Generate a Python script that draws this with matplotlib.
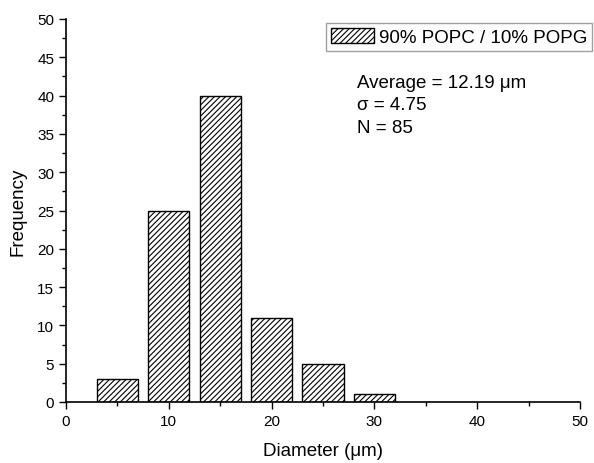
import matplotlib
matplotlib.use("Agg")
import matplotlib.pyplot as plt
from matplotlib.ticker import MultipleLocator

plt.rcParams['font.family'] = ['Liberation Sans', 'DejaVu Sans']
plt.rcParams['hatch.linewidth'] = 0.8

centers = [5, 10, 15, 20, 25, 30]
counts = [3, 25, 40, 11, 5, 1]
label = "90% POPC / 10% POPG"
stats = ["Average = 12.19 \u03bcm", "\u03c3 = 4.75", "N = 85"]

fig = plt.figure(figsize=(5.94, 4.64), dpi=100)
ax = fig.add_axes([66/594, 1-403/464, (580-66)/594, (403-20)/464])

ax.bar(centers, counts, width=4, color='white', edgecolor='black',
       hatch='//////', linewidth=1.0, label=label)

ax.set_xlim(0, 50)
ax.set_ylim(0, 50)
ax.xaxis.set_major_locator(MultipleLocator(10))
ax.xaxis.set_minor_locator(MultipleLocator(5))
ax.yaxis.set_major_locator(MultipleLocator(5))
ax.yaxis.set_minor_locator(MultipleLocator(2.5))
ax.tick_params(which='major', direction='out', length=5, width=1, labelsize=11)
ax.tick_params(which='minor', direction='out', length=3, width=1)
for s in ['top', 'right']:
    ax.spines[s].set_visible(False)
for s in ['left', 'bottom']:
    ax.spines[s].set_linewidth(1.2)

ax.set_xlabel("Diameter (\u03bcm)", fontsize=13.5, labelpad=10)
ax.set_ylabel("Frequency", fontsize=13.5, labelpad=8)

leg = fig.legend(loc='upper left', bbox_to_anchor=(326/594, 1-24/464),
                 frameon=True, fancybox=False, fontsize=13.5,
                 handlelength=2.3, handleheight=0.9, borderpad=0.25,
                 handletextpad=0.25, borderaxespad=0)
leg.get_frame().set_edgecolor('#888888')
leg.get_frame().set_linewidth(1.0)

for i, t in enumerate(stats):
    fig.text(357/594, 1-(83+i*23)/464, t, fontsize=13.5, va='center', ha='left')

fig.savefig("out.png", dpi=100)
